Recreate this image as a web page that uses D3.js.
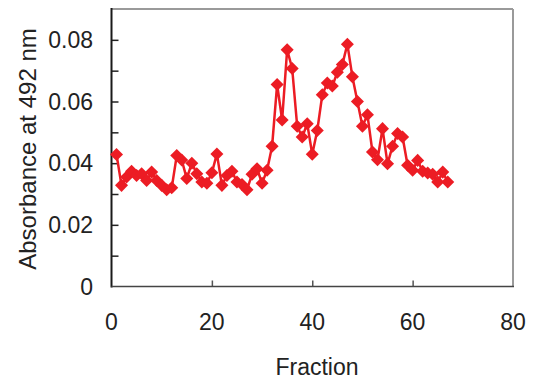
<!DOCTYPE html>
<html>
<head>
<meta charset="utf-8">
<script src="https://cdn.jsdelivr.net/npm/d3@7"></script>
<style>
  html, body { margin: 0; padding: 0; background: #fff; }
  svg { display: block; font-family: "Liberation Sans", Arial, sans-serif; }
</style>
</head>
<body>
<svg id="chart" width="533" height="379"></svg>
<script>
// Absorbance at 492 nm for each collected fraction
const fractions = d3.range(1, 68);
const absorbance = [
  0.0428, 0.0328, 0.0355, 0.0374, 0.0360, 0.0366, 0.0344, 0.0371, 0.0344, 0.0328,
  0.0314, 0.0320, 0.0425, 0.0410, 0.0350, 0.0400, 0.0366, 0.0339, 0.0335, 0.0369,
  0.0430, 0.0328, 0.0360, 0.0374, 0.0339, 0.0331, 0.0314, 0.0364, 0.0382, 0.0335,
  0.0377, 0.0455, 0.0655, 0.0540, 0.0768, 0.0707, 0.0520, 0.0485, 0.0528, 0.0429,
  0.0506, 0.0622, 0.0660, 0.0650, 0.0695, 0.0720, 0.0786, 0.0680, 0.0600, 0.0520,
  0.0557, 0.0436, 0.0411, 0.0512, 0.0398, 0.0455, 0.0496, 0.0485, 0.0393, 0.0377,
  0.0409, 0.0374, 0.0368, 0.0364, 0.0339, 0.0371, 0.0339
];
const xTicks = [0, 20, 40, 60, 80];
const yTicks = [0, 0.02, 0.04, 0.06, 0.08];
const yMinorTicks = [0.01, 0.02, 0.03, 0.04, 0.05, 0.06, 0.07, 0.08];

const svg = d3.select("#chart");
const pLeft = 111.5, pRight = 513, pTop = 9, pBottom = 286.5;

const x = d3.scaleLinear().domain([0, 80]).range([pLeft, pRight]);
const y = d3.scaleLinear().domain([0, 0.09]).range([pBottom, pTop]);
const red = "#ec1c24";

// frame: top and right borders in gray
svg.append("line").attr("x1", pLeft).attr("x2", pRight).attr("y1", pTop).attr("y2", pTop)
  .attr("stroke", "#9a9a9a").attr("stroke-width", 2);
svg.append("line").attr("x1", pRight).attr("x2", pRight).attr("y1", pTop).attr("y2", pBottom)
  .attr("stroke", "#9a9a9a").attr("stroke-width", 2);

// y axis with inward ticks every 0.01
const yAxis = svg.append("g").attr("transform", `translate(${pLeft},0)`)
  .call(d3.axisRight(y).tickValues(yMinorTicks).tickSize(7).tickFormat(""));
yAxis.select(".domain").remove();
yAxis.selectAll(".tick line").attr("stroke", "#222").attr("stroke-width", 1.5);
svg.append("line").attr("x1", pLeft).attr("x2", pLeft).attr("y1", pTop - 1).attr("y2", pBottom + 1)
  .attr("stroke", "#1a1a1a").attr("stroke-width", 2);

// x axis with inward ticks
const xAxis = svg.append("g").attr("transform", `translate(0,${pBottom})`)
  .call(d3.axisTop(x).tickValues([20, 40, 60]).tickSize(6).tickFormat(""));
xAxis.select(".domain").remove();
xAxis.selectAll(".tick line").attr("stroke", "#555").attr("stroke-width", 1.5);
svg.append("line").attr("x1", pLeft).attr("x2", pRight + 1).attr("y1", pBottom).attr("y2", pBottom)
  .attr("stroke", "#444").attr("stroke-width", 1.5);

// tick labels
svg.append("g").selectAll("text").data(yTicks).join("text")
  .attr("x", 93).attr("y", d => y(d)).attr("dy", "0.36em")
  .attr("text-anchor", "end").attr("font-size", 23).attr("fill", "#222")
  .text(d => d === 0 ? "0" : d3.format(".2f")(d));
svg.append("g").selectAll("text").data(xTicks).join("text")
  .attr("x", d => x(d)).attr("y", 322).attr("dy", "0.36em")
  .attr("text-anchor", "middle").attr("font-size", 23).attr("fill", "#222")
  .text(d => d);

// axis titles
svg.append("text").attr("x", 317).attr("y", 375)
  .attr("text-anchor", "middle").attr("font-size", 23).attr("fill", "#222")
  .text("Fraction");
svg.append("text").attr("transform", `translate(36,149) rotate(-90)`)
  .attr("text-anchor", "middle").attr("font-size", 24).attr("fill", "#222")
  .text("Absorbance at 492 nm");

// data series: line plus square markers turned into diamonds
const pts = fractions.map((f, i) => [f, absorbance[i]]);
svg.append("path").datum(pts)
  .attr("d", d3.line().x(d => x(d[0])).y(d => y(d[1])))
  .attr("fill", "none").attr("stroke", red).attr("stroke-width", 2.5);
svg.append("g").selectAll("path").data(pts).join("path")
  .attr("transform", d => `translate(${x(d[0])},${y(d[1])}) rotate(45)`)
  .attr("d", d3.symbol().type(d3.symbolSquare).size(85))
  .attr("fill", red);
</script>
</body>
</html>
